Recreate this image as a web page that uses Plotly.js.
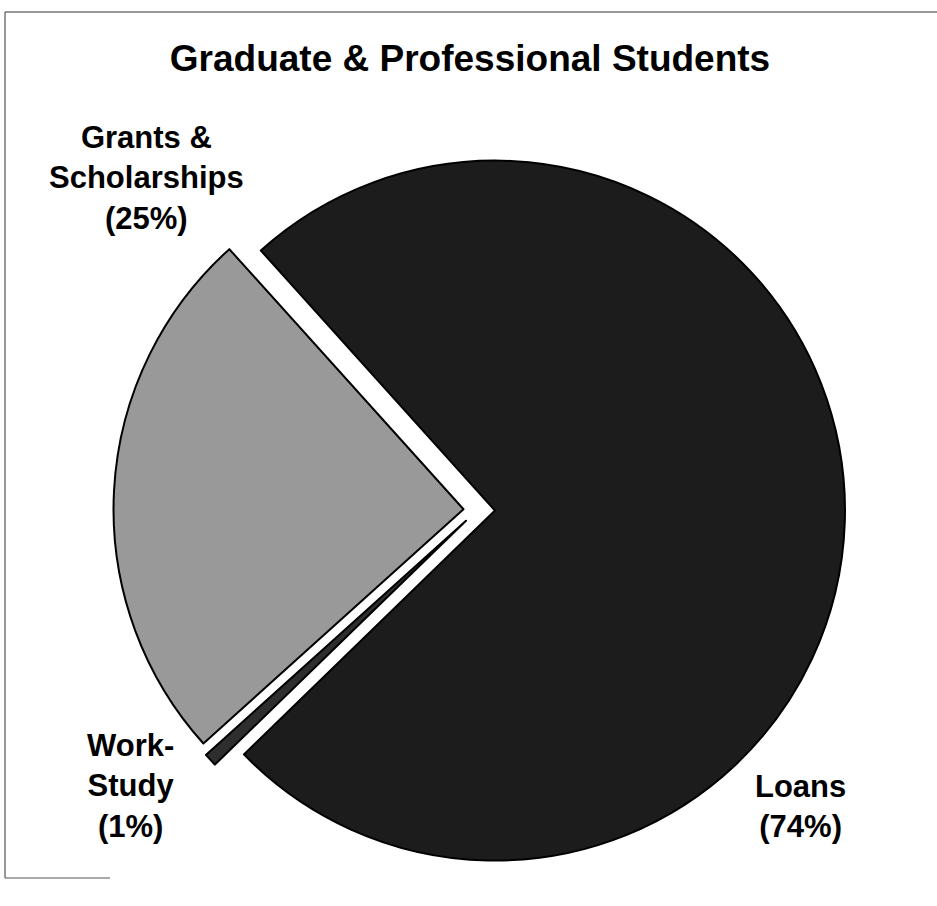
<!DOCTYPE html>
<html>
<head>
<meta charset="utf-8">
<script src="https://cdn.plot.ly/plotly-3.0.1.min.js"></script>
<style>html,body{margin:0;padding:0;background:#fff;}#chart{width:937px;height:906px;}</style>
</head>
<body>
<div id="chart"></div>
<script>
// Data
const categories = ['Loans', 'Work-Study', 'Grants & Scholarships'];
const labelLines = ['Loans', 'Work-<br>Study', 'Grants &<br>Scholarships'];
const values = [74.4, 0.6, 25.0];
const pulls = [0.05, 0.045, 0.04];
const colors = ['#1c1c1c', '#2e2e2e', '#999999'];

const W = 937, H = 906;
const px = x => x / W;
const py = y => 1 - y / H;

// pie geometry (center 477.5,510 px; radius 350 px)
const cx = 477.5, cy = 510, r = 350;
const half = r * (1 + Math.max(...pulls));

const trace = {
  type: 'pie',
  labels: categories,
  values: values,
  sort: false,
  direction: 'clockwise',
  rotation: -42,
  pull: pulls,
  marker: { colors: colors, line: { color: '#000', width: 2 } },
  textinfo: 'none',
  hoverinfo: 'none',
  showlegend: false,
  domain: { x: [px(cx - half), px(cx + half)], y: [py(cy + half), py(cy - half)] }
};

const total = values.reduce((a, b) => a + b, 0);
const labelPos = [
  { x: 800, y: 806 },
  { x: 130, y: 786 },
  { x: 146, y: 178 }
];
const font = { family: '"Liberation Sans", Arial, sans-serif', size: 31, color: '#000', weight: 700 };
const annotations = categories.map((c, i) => ({
  xref: 'paper', yref: 'paper',
  x: px(labelPos[i].x), y: py(labelPos[i].y),
  xanchor: 'center', yanchor: 'middle',
  showarrow: false,
  align: 'center',
  text: labelLines[i] + '<br>(' + Math.round(100 * values[i] / total) + '%)',
  font: font
}));

const shapes = [
  { type: 'line', xref: 'paper', yref: 'paper', x0: px(5), x1: px(937), y0: py(12), y1: py(12), line: { color: '#333', width: 1 } },
  { type: 'line', xref: 'paper', yref: 'paper', x0: px(5), x1: px(5), y0: py(12), y1: py(878), line: { color: '#333', width: 1 } },
  { type: 'line', xref: 'paper', yref: 'paper', x0: px(5), x1: px(110), y0: py(878), y1: py(878), line: { color: '#555', width: 1 } }
];

const layout = {
  width: W, height: H,
  margin: { l: 0, r: 0, t: 0, b: 0 },
  paper_bgcolor: '#fff',
  title: {
    text: 'Graduate & Professional Students',
    font: { family: '"Liberation Sans", Arial, sans-serif', size: 37, color: '#000', weight: 700 },
    x: px(470), xanchor: 'center', xref: 'paper',
    y: py(58), yanchor: 'middle', yref: 'container'
  },
  annotations: annotations,
  shapes: shapes
};

Plotly.newPlot('chart', [trace], layout, { displayModeBar: false, staticPlot: true });
</script>
</body>
</html>
